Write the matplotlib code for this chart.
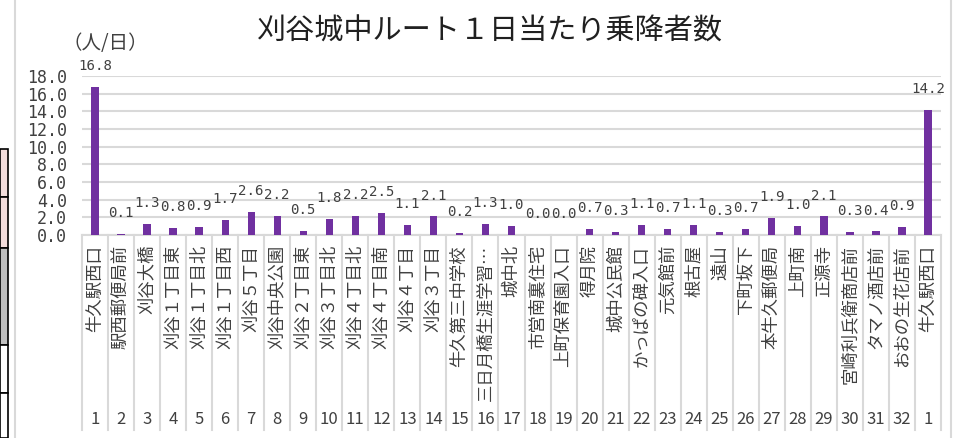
"""
刈谷城中ルート 1日当たり乗降者数
"""
import matplotlib
matplotlib.use('Agg')
import matplotlib.pyplot as plt
import matplotlib.transforms as mtransforms
from matplotlib.lines import Line2D
from matplotlib.patches import Rectangle

plt.rcParams['font.family'] = ['Noto Sans CJK JP', 'DejaVu Sans']

# データ
stop_no = [1, 2, 3, 4, 5, 6, 7, 8, 9, 10, 11, 12, 13, 14, 15, 16,
           17, 18, 19, 20, 21, 22, 23, 24, 25, 26, 27, 28, 29, 30, 31, 32, 1]
stop_names = ['牛久駅西口', '駅西郵便局前', '刈谷大橋', '刈谷１丁目東', '刈谷１丁目北',
              '刈谷１丁目西', '刈谷５丁目', '刈谷中央公園', '刈谷２丁目東', '刈谷３丁目北',
              '刈谷４丁目北', '刈谷４丁目南', '刈谷４丁目', '刈谷３丁目', '牛久第三中学校',
              '三日月橋生涯学習…', '城中北', '市営南裏住宅', '上町保育園入口', '得月院',
              '城中公民館', 'かっぱの碑入口', '元気館前', '根古屋', '遠山', '下町坂下',
              '本牛久郵便局', '上町南', '正源寺', '宮崎利兵衛商店前', 'タマノ酒店前',
              'おおの生花店前', '牛久駅西口']
passengers = [16.8, 0.1, 1.3, 0.8, 0.9, 1.7, 2.6, 2.2, 0.5, 1.8, 2.2, 2.5, 1.1, 2.1,
              0.2, 1.3, 1.0, 0.0, 0.0, 0.7, 0.3, 1.1, 0.7, 1.1, 0.3, 0.7, 1.9, 1.0,
              2.1, 0.3, 0.4, 0.9, 14.2]
y_ticks = [0, 2, 4, 6, 8, 10, 12, 14, 16, 18]

W, H = 969, 438
fig = plt.figure(figsize=(W / 100, H / 100), dpi=100)

# 左側の表の一部（切り抜き）
row_edges = [149, 197, 248, 345, 393, 438]
row_colors = ['#f2dcdb', '#f2dcdb', '#bfbfbf', 'white', 'white']
for (y0, y1), c in zip(zip(row_edges[:-1], row_edges[1:]), row_colors):
    fig.patches.append(Rectangle((0, 1 - y1 / H), 8 / W, (y1 - y0) / H,
                                 transform=fig.transFigure, facecolor=c,
                                 edgecolor='black', linewidth=1.2))
# グラフ枠
for xp in (15.5, 951):
    fig.lines.append(Line2D([xp / W, xp / W], [0, 1], transform=fig.transFigure,
                            color='#d9d9d9', linewidth=1.5))

ax = fig.add_axes([82 / W, 1 - 235 / H, (941 - 82) / W, (235 - 76) / H])
x = list(range(len(passengers)))
ax.bar(x, passengers, width=0.28, color='#7030a0', zorder=3)
ax.set_xlim(-0.5, len(passengers) - 0.5)
ax.set_ylim(0, 18)
ax.set_yticks(y_ticks)
ax.set_yticklabels([f'{v:.1f}' for v in y_ticks], family='DejaVu Sans Mono', fontsize=12)
ax.tick_params(axis='y', length=0, pad=11, colors='#404040')
ax.tick_params(axis='x', length=0, labelbottom=False)
ax.grid(axis='y', color='#d9d9d9', linewidth=1.5, zorder=0)
for s in ax.spines.values():
    s.set_visible(False)

# データラベル
for xi, v in zip(x, passengers):
    ax.annotate(f'{v:.1f}', (xi, v), xytext=(0, 10), textcoords='offset points',
                ha='center', va='bottom', family='DejaVu Sans Mono', fontsize=10.2,
                color='#404040', annotation_clip=False)

# 軸の区切り線とカテゴリ名
trans = mtransforms.blended_transform_factory(ax.transData, fig.transFigure)
for i in range(len(passengers) + 1):
    ax.add_line(Line2D([i - 0.5, i - 0.5], [1 - 235 / H, 1 - 430 / H], transform=trans,
                       color='#d9d9d9', linewidth=1.5, clip_on=False))
ax.add_line(Line2D([-0.5, len(passengers) - 0.5], [1 - 235 / H, 1 - 235 / H],
                   transform=trans, color='#d9d9d9', linewidth=1.5, clip_on=False))
for xi, name, no in zip(x, stop_names, stop_no):
    ax.text(xi, 1 - 245 / H, name, transform=trans, rotation=90,
            ha='center', va='top', fontsize=12.5, color='#404040')
    ax.text(xi, 1 - 420 / H, str(no), transform=trans, ha='center', va='center',
            fontsize=12, color='#404040')

fig.text(490 / W, 1 - 32 / H, '刈谷城中ルート１日当たり乗降者数', ha='center', va='center',
         fontsize=21, color='#202020')
fig.text(62 / W, 1 - 43 / H, '（人/日）', ha='left', va='center', fontsize=14,
         color='#404040')

fig.savefig('out.png', dpi=100)
